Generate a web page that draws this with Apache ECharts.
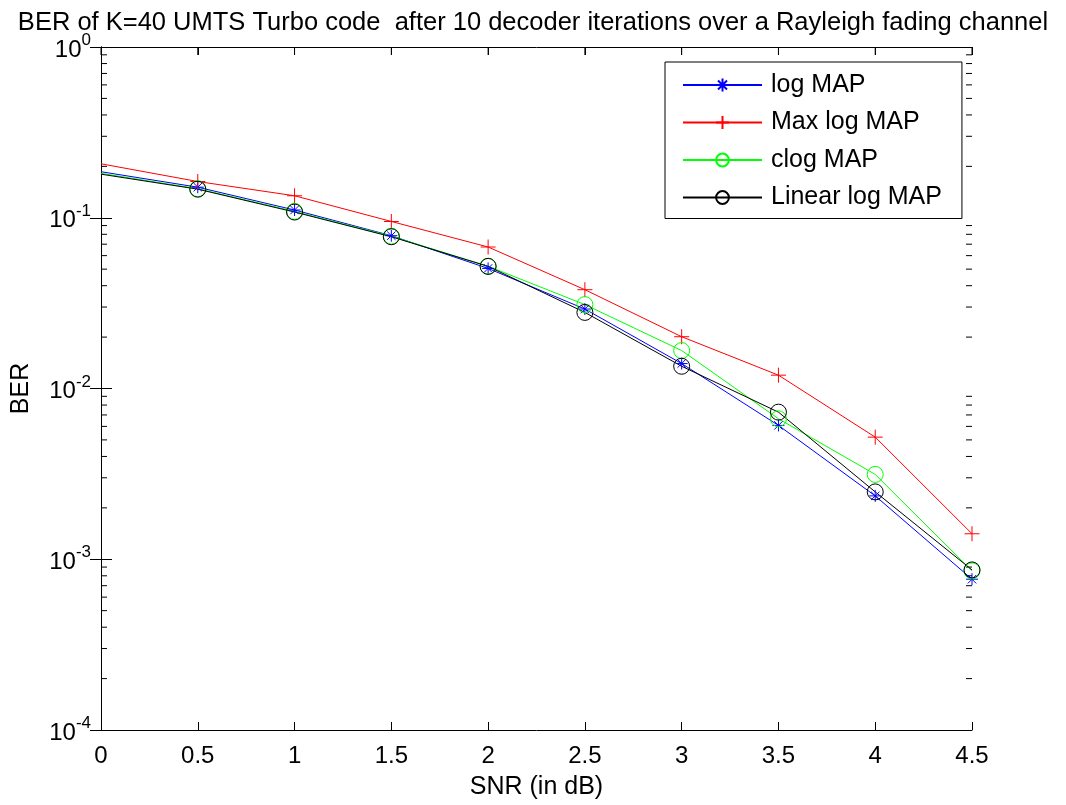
<!DOCTYPE html>
<html>
<head>
<meta charset="utf-8">
<script src="https://cdn.jsdelivr.net/npm/echarts@6/dist/echarts.min.js"></script>
<style>
  html, body { margin: 0; padding: 0; background: #fff; }
  #chart { width: 1066px; height: 805px; }
</style>
</head>
<body>
<div id="chart"></div>
<script>
var snr = [0, 0.5, 1, 1.5, 2, 2.5, 3, 3.5, 4, 4.5];
var logMap = [0.186, 0.151, 0.111, 0.0785, 0.0505, 0.0292, 0.0140, 0.00608, 0.00235, 0.000764];
var maxLogMap = [0.207, 0.163, 0.1345, 0.0951, 0.0674, 0.0379, 0.0201, 0.01197, 0.00519, 0.00141];
var clogMap = [0.182, 0.148, 0.109, 0.078, 0.052, 0.031, 0.01668, 0.00665, 0.00314, 0.000855];
var linearLogMap = [0.180, 0.147, 0.108, 0.0774, 0.0519, 0.0279, 0.0135, 0.00727, 0.00248, 0.000866];
var seriesNames = ['log MAP', 'Max log MAP', 'clog MAP', 'Linear log MAP'];

var font = "'Liberation Sans', Arial, sans-serif";

// minor ticks of the log axis: 2..9 times each decade
var minorTicks = [];
[-4, -3, -2, -1].forEach(function (d) {
    for (var k = 2; k <= 9; k++) minorTicks.push(k * Math.pow(10, d));
});

function pts(vals) {
    // first point (x = 0) has the line only, no marker
    return vals.map(function (v, i) {
        return i === 0 ? { value: [snr[i], v], symbol: 'none' } : [snr[i], v];
    });
}

var starPath = 'path://M0,-1L0,1M-1,0L1,0M-0.7,-0.7L0.7,0.7M-0.7,0.7L0.7,-0.7';
var plusPath = 'path://M0,-1L0,1M-1,0L1,0';

function lineSeries(name, vals, color, symbol, size) {
    return {
        name: name,
        type: 'line',
        data: pts(vals),
        symbol: symbol,
        symbolSize: size,
        showAllSymbol: true,
        clip: false,
        lineStyle: { color: color, width: 1 },
        itemStyle: { color: symbol === 'circle' ? 'rgba(0,0,0,0)' : color, borderColor: color, borderWidth: 1 },
        emphasis: { disabled: true },
        animation: false
    };
}

var myChart = echarts.init(document.getElementById('chart'));

var option = {
    backgroundColor: '#fff',
    animation: false,
    textStyle: { fontFamily: font },
    title: {
        text: 'BER of K=40 UMTS Turbo code  after 10 decoder iterations over a Rayleigh fading channel',
        left: 'center',
        top: 5,
        textStyle: { fontFamily: font, fontSize: 25.5, fontWeight: 'normal', color: '#000' }
    },
    grid: { left: 101, right: 94, top: 47, bottom: 74 },
    legend: {
        data: seriesNames,
        orient: 'vertical',
        left: 665,
        top: 62,
        backgroundColor: '#fff',
        borderColor: '#000',
        borderWidth: 1,
        padding: [10, 20, 8, 17],
        itemWidth: 79,
        itemHeight: 16,
        itemGap: 11.5,
        selectedMode: false,
        textStyle: { fontFamily: font, fontSize: 25, color: '#000', lineHeight: 26, padding: [0, 0, 0, 4] }
    },
    xAxis: [{
        type: 'value',
        min: 0,
        max: 4.5,
        interval: 0.5,
        name: 'SNR (in dB)',
        nameLocation: 'middle',
        nameGap: 45,
        nameTextStyle: { fontFamily: font, fontSize: 25, color: '#000' },
        axisLine: { lineStyle: { color: '#000', width: 1 } },
        axisTick: { inside: true, length: 8, lineStyle: { color: '#000' } },
        axisLabel: { fontFamily: font, fontSize: 24, color: '#000', margin: 14 },
        splitLine: { show: false }
    }, {
        type: 'value',
        position: 'top',
        min: 0,
        max: 4.5,
        interval: 0.5,
        axisLine: { show: true, lineStyle: { color: '#000', width: 1 } },
        axisTick: { show: true, inside: true, length: 8, lineStyle: { color: '#000' } },
        axisLabel: { show: false },
        splitLine: { show: false }
    }],
    yAxis: [{
        type: 'log',
        logBase: 10,
        min: 0.0001,
        max: 1,
        name: 'BER',
        nameLocation: 'middle',
        nameGap: 67,
        nameTextStyle: { fontFamily: font, fontSize: 25, color: '#000' },
        axisLine: { lineStyle: { color: '#000', width: 1 } },
        axisTick: { inside: true, length: 11, lineStyle: { color: '#000' } },
        axisLabel: {
            margin: 10,
            formatter: function (v) {
                return '{b|10}{e|' + Math.round(Math.log10(v)) + '}';
            },
            rich: {
                b: { fontFamily: font, fontSize: 24, color: '#000', lineHeight: 30, verticalAlign: 'bottom' },
                e: { fontFamily: font, fontSize: 17, color: '#000', lineHeight: 17, verticalAlign: 'top' }
            }
        },
        splitLine: { show: false }
    }, {
        type: 'log',
        logBase: 10,
        min: 0.0001,
        max: 1,
        position: 'right',
        axisLine: { show: true, lineStyle: { color: '#000', width: 1 } },
        axisTick: { show: true, inside: true, length: 11, lineStyle: { color: '#000' } },
        axisLabel: { show: false },
        splitLine: { show: false }
    }],
    series: [
        {
            name: 'minor ticks',
            type: 'custom',
            silent: true,
            clip: false,
            z: 1,
            data: minorTicks.map(function (v) { return [0, v]; }),
            renderItem: function (params, api) {
                var v = api.value(1);
                var p0 = api.coord([0, v]);
                var p1 = api.coord([4.5, v]);
                return {
                    type: 'group',
                    children: [
                        { type: 'line', shape: { x1: p0[0], y1: p0[1], x2: p0[0] + 6, y2: p0[1] }, style: { stroke: '#000', lineWidth: 1 } },
                        { type: 'line', shape: { x1: p1[0] - 6, y1: p1[1], x2: p1[0], y2: p1[1] }, style: { stroke: '#000', lineWidth: 1 } }
                    ]
                };
            }
        },
        {
            name: 'top ticks',
            type: 'custom',
            silent: true,
            clip: false,
            z: 1,
            data: snr.map(function (x) { return [x, 1]; }),
            renderItem: function (params, api) {
                var p = api.coord([api.value(0), 1]);
                return { type: 'line', shape: { x1: p[0], y1: p[1], x2: p[0], y2: p[1] + 8 }, style: { stroke: '#000', lineWidth: 1 } };
            }
        },
        lineSeries('log MAP', logMap, '#0000ff', starPath, 12),
        lineSeries('Max log MAP', maxLogMap, '#ff0000', plusPath, 15),
        lineSeries('clog MAP', clogMap, '#00ff00', 'circle', 16),
        lineSeries('Linear log MAP', linearLogMap, '#000000', 'circle', 16)
    ]
};

myChart.setOption(option);
</script>
</body>
</html>
